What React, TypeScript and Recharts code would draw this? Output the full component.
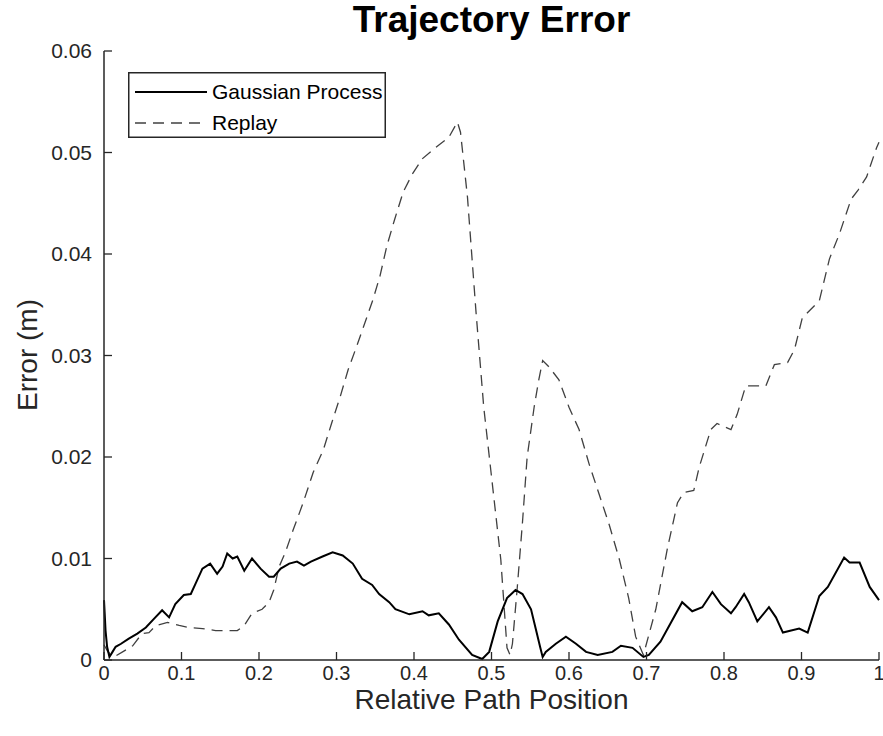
import React from 'react';
import { LineChart, Line, XAxis, YAxis, Legend, Label } from 'recharts';

// Gaussian Process error along the path
const gpPosition = [
  0, 0.002, 0.004, 0.007, 0.011, 0.015, 0.022, 0.032, 0.043, 0.054, 0.065, 0.075, 0.084, 0.092,
  0.103, 0.112, 0.118, 0.127, 0.137, 0.146, 0.153, 0.159, 0.166, 0.172, 0.181, 0.191, 0.202,
  0.213, 0.219, 0.228, 0.239, 0.249, 0.258, 0.267, 0.282, 0.295, 0.308, 0.321, 0.333, 0.346,
  0.355, 0.368, 0.376, 0.394, 0.411, 0.419, 0.432, 0.445, 0.458, 0.475, 0.488, 0.497, 0.508,
  0.52, 0.531, 0.54, 0.551, 0.557, 0.563, 0.566, 0.57, 0.583, 0.596, 0.609, 0.622, 0.637, 0.656,
  0.667, 0.682, 0.696, 0.703, 0.718, 0.746, 0.759, 0.772, 0.785, 0.796, 0.809, 0.815, 0.826,
  0.832, 0.843, 0.858, 0.867, 0.876, 0.897, 0.908, 0.923, 0.934, 0.955, 0.962, 0.975, 0.988, 1,
];
const gpError = [
  0.0059, 0.0029, 0.0013, 0.0003, 0.0008, 0.0013, 0.0016, 0.0021, 0.0026, 0.0032, 0.0041, 0.0049,
  0.0042, 0.0055, 0.0064, 0.0065, 0.0075, 0.009, 0.0095, 0.0085, 0.0092, 0.0105, 0.01, 0.0102,
  0.0088, 0.01, 0.009, 0.0082, 0.0082, 0.009, 0.0095, 0.0097, 0.0093, 0.0097, 0.0102, 0.0106,
  0.0103, 0.0095, 0.008, 0.0074, 0.0065, 0.0057, 0.005, 0.0045, 0.0048, 0.0044, 0.0046, 0.0035,
  0.002, 0.0005, 0.0001, 0.0008, 0.0038, 0.0061, 0.0069, 0.0065, 0.005, 0.0031, 0.0012, 0.0003,
  0.0008, 0.0016, 0.0023, 0.0016, 0.0008, 0.0005, 0.0008, 0.0014, 0.0012, 0.0003, 0.0005, 0.0018,
  0.0057, 0.0048, 0.0052, 0.0067, 0.0055, 0.0046, 0.0052, 0.0065, 0.0057, 0.0038, 0.0052, 0.0042,
  0.0027, 0.0031, 0.0027, 0.0063, 0.0072, 0.0101, 0.0096, 0.0096, 0.0072, 0.0059,
];

// Replay error along the path
const replayPosition = [
  0, 0.005, 0.01, 0.015, 0.024, 0.037, 0.049, 0.058, 0.067, 0.082, 0.097, 0.11, 0.127, 0.144,
  0.161, 0.172, 0.181, 0.191, 0.204, 0.213, 0.219, 0.226, 0.234, 0.244, 0.257, 0.27, 0.283,
  0.294, 0.305, 0.315, 0.326, 0.337, 0.347, 0.356, 0.365, 0.375, 0.386, 0.398, 0.411, 0.428,
  0.445, 0.456, 0.46, 0.469, 0.48, 0.49, 0.501, 0.512, 0.52, 0.524, 0.527, 0.533, 0.54, 0.546,
  0.555, 0.561, 0.566, 0.574, 0.587, 0.6, 0.613, 0.626, 0.639, 0.652, 0.665, 0.677, 0.686, 0.696,
  0.712, 0.727, 0.74, 0.748, 0.761, 0.768, 0.783, 0.791, 0.809, 0.817, 0.828, 0.854, 0.865, 0.882,
  0.891, 0.901, 0.923, 0.936, 0.949, 0.964, 0.973, 0.984, 0.997, 1,
];
const replayError = [
  0.0015, 0.0008, 0.0005, 0.0004, 0.0008, 0.0014, 0.0026, 0.0027, 0.0034, 0.0037, 0.0034, 0.0032,
  0.0031, 0.0029, 0.0029, 0.0029, 0.0034, 0.0046, 0.005, 0.0057, 0.0069, 0.0092, 0.0106, 0.0128,
  0.0155, 0.0185, 0.0207, 0.0234, 0.026, 0.0286, 0.0309, 0.0333, 0.0355, 0.0378, 0.0408, 0.0434,
  0.0461, 0.0479, 0.0494, 0.0505, 0.0515, 0.053, 0.052, 0.0456, 0.0343, 0.0249, 0.0174, 0.0099,
  0.0012, 0.0005, 0.0016, 0.0069, 0.0136, 0.02, 0.0249, 0.0276, 0.0295, 0.0289, 0.0276, 0.0249,
  0.0227, 0.0193, 0.0163, 0.0133, 0.0099, 0.0061, 0.0023, 0.0005, 0.005, 0.011, 0.0155, 0.0165,
  0.0167, 0.019, 0.0227, 0.0233, 0.0227, 0.0242, 0.027, 0.027, 0.0291, 0.0293, 0.0306, 0.0337,
  0.0354, 0.0395, 0.042, 0.0454, 0.0463, 0.0476, 0.0505, 0.051,
];

const xTicks = [0, 0.1, 0.2, 0.3, 0.4, 0.5, 0.6, 0.7, 0.8, 0.9, 1];
const yTicks = [0, 0.01, 0.02, 0.03, 0.04, 0.05, 0.06];

const gpData = gpPosition.map((x, i) => ({ x, error: gpError[i] }));
const replayData = replayPosition.map((x, i) => ({ x, error: replayError[i] }));

const FONT = '"Liberation Sans", Arial, sans-serif';
const AXIS = '#262626';
const TICK_LEN = 8;

// ticks point into the plot box, MATLAB style
const BottomTick = (props: any) => (
  <g>
    <line x1={props.x} y1={props.y} x2={props.x} y2={props.y - TICK_LEN} stroke={AXIS} strokeWidth={1.3} />
    <text x={props.x} y={props.y + 20} textAnchor="middle" fontFamily={FONT} fontSize={20} fill="#262626">
      {props.payload.value}
    </text>
  </g>
);
const TopTick = (props: any) => (
  <line x1={props.x} y1={props.y} x2={props.x} y2={props.y + TICK_LEN} stroke={AXIS} strokeWidth={1.3} />
);
const LeftTick = (props: any) => (
  <g>
    <line x1={props.x} y1={props.y} x2={props.x + TICK_LEN} y2={props.y} stroke={AXIS} strokeWidth={1.3} />
    <text x={props.x - 12} y={props.y + 7} textAnchor="end" fontFamily={FONT} fontSize={21} fill="#262626">
      {props.payload.value}
    </text>
  </g>
);
const RightTick = (props: any) => (
  <line x1={props.x} y1={props.y} x2={props.x - TICK_LEN} y2={props.y} stroke={AXIS} strokeWidth={1.3} />
);

const LegendBox = () => (
  <svg width={258} height={66}>
    <rect x={0.75} y={0.75} width={256.5} height={64.5} fill="#fff" stroke={AXIS} strokeWidth={1.5} />
    <line x1={7} y1={20} x2={79} y2={20} stroke="#000" strokeWidth={2} />
    <text x={84} y={27} fontFamily={FONT} fontSize={21} fill="#000">Gaussian Process</text>
    <line x1={7} y1={51} x2={79} y2={51} stroke="#404040" strokeWidth={1.3} strokeDasharray="11 7" />
    <text x={84} y={58} fontFamily={FONT} fontSize={21} fill="#000">Replay</text>
  </svg>
);

const App = () => (
  <div style={{ position: 'absolute', left: 0, top: 0, width: 883, height: 736, background: '#fff' }}>
    <div
      style={{
        position: 'absolute', left: 104, top: -3, width: 775, textAlign: 'center',
        fontFamily: FONT, fontWeight: 'bold', fontSize: 37, lineHeight: '46px', color: '#000',
      }}
    >
      Trajectory Error
    </div>
    <LineChart width={883} height={736} margin={{ top: 51, right: 4, bottom: 0, left: 0 }}>
      <XAxis
        dataKey="x" type="number" domain={[0, 1]} ticks={xTicks} height={76}
        stroke={AXIS} strokeWidth={1.5} tickLine={false} tickSize={0} tickMargin={0} tick={BottomTick}
        allowDuplicatedCategory={false}
      >
        <Label
          content={(p: any) => (
            <text x={p.viewBox.x + p.viewBox.width / 2} y={p.viewBox.y + 49} textAnchor="middle"
              fontFamily={FONT} fontSize={28} fill="#262626">
              Relative Path Position
            </text>
          )}
        />
      </XAxis>
      <XAxis
        xAxisId="top" orientation="top" dataKey="x" type="number" domain={[0, 1]} ticks={xTicks}
        height={0} stroke={AXIS} strokeWidth={1.5} tickLine={false} tickSize={0} tickMargin={0} tick={TopTick}
      />
      <YAxis
        type="number" domain={[0, 0.06]} ticks={yTicks} width={104}
        stroke={AXIS} strokeWidth={1.5} tickLine={false} tickSize={0} tickMargin={0} tick={LeftTick}
      >
        <Label
          content={() => (
            <text x={37} y={355} transform="rotate(-90, 37, 355)" textAnchor="middle"
              fontFamily={FONT} fontSize={28} fill="#262626">
              Error (m)
            </text>
          )}
        />
      </YAxis>
      <YAxis
        yAxisId="right" orientation="right" type="number" domain={[0, 0.06]} ticks={yTicks} width={0}
        stroke={AXIS} strokeWidth={1.5} tickLine={false} tickSize={0} tickMargin={0} tick={RightTick}
      />
      <Legend
        layout="vertical" align="center" verticalAlign="middle"
        wrapperStyle={{ left: 128, top: 72, width: 258, height: 66 }}
        content={LegendBox}
      />
      <Line
        data={replayData} dataKey="error" name="Replay" type="linear" dot={false}
        stroke="#404040" strokeWidth={1.3} strokeDasharray="11 7" isAnimationActive={false}
      />
      <Line
        data={gpData} dataKey="error" name="Gaussian Process" type="linear" dot={false}
        stroke="#000" strokeWidth={2} isAnimationActive={false}
      />
    </LineChart>
  </div>
);

export default App;
